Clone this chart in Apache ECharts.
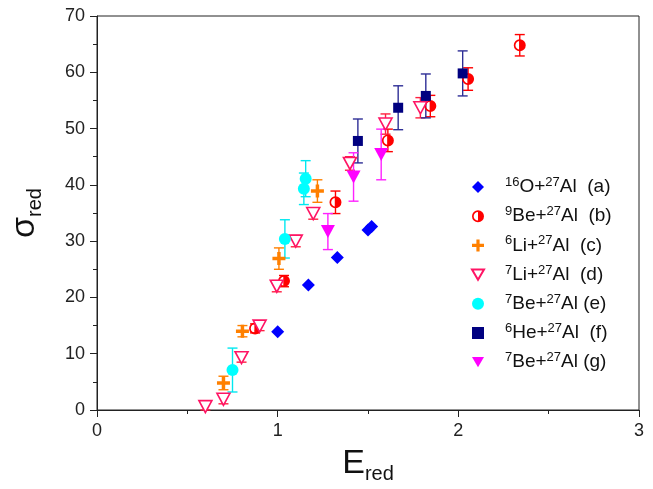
<!DOCTYPE html>
<html>
<head>
<meta charset="utf-8">
<script src="https://cdn.jsdelivr.net/npm/echarts@6/dist/echarts.min.js"></script>
<style>html,body{margin:0;padding:0;background:#fff;}#c{width:653px;height:489px;}</style>
</head>
<body>
<div id="c"></div>
<script>
// ---- data (E_red, sigma_red, error) ----
const O16_x = [1.00, 1.17, 1.33, 1.50, 1.52];
const O16_y = [13.9, 22.2, 27.1, 32.0, 32.6];

const Be9_x = [0.875, 1.035, 1.32, 1.61, 1.845, 2.054, 2.34];
const Be9_y = [14.5, 22.9, 36.9, 47.9, 54.0, 58.8, 64.8];
const Be9_e = [0.8, 1.0, 2.0, 2.0, 1.9, 2.0, 1.9];

const Li6_x = [0.70, 0.805, 1.007, 1.22];
const Li6_y = [4.8, 14.0, 26.9, 38.9];
const Li6_e = [1.2, 1.0, 1.9, 2.0];

const Li7_x = [0.60, 0.70, 0.80, 0.90, 0.995, 1.10, 1.197, 1.40, 1.597, 1.79];
const Li7_y = [0.6, 1.9, 9.3, 14.9, 22.0, 30.0, 34.9, 43.8, 50.8, 53.7];
const Li7_e = [0.6, 0.8, 0.8, 0.8, 1.0, 1.0, 1.0, 1.2, 1.8, 1.8];

const Be7e_x = [0.75, 1.04, 1.145, 1.155];
const Be7e_y = [7.1, 30.4, 39.3, 41.1];
const Be7e_e = [3.9, 3.4, 2.8, 3.2];

const He6_x = [1.444, 1.667, 1.82, 2.024];
const He6_y = [47.8, 53.7, 55.8, 59.8];
const He6_e = [3.9, 3.9, 3.9, 4.0];

const Be7g_x = [1.278, 1.42, 1.573];
const Be7g_y = [31.7, 41.4, 45.4];
const Be7g_e = [3.2, 4.3, 4.5];

const xTicks = [0, 1, 2, 3];
const yTicks = [0, 10, 20, 30, 40, 50, 60, 70];

// legend labels: [superscript A, projectile, superscript B, target+tag]
const legendNames = ['a', 'b', 'c', 'd', 'e', 'f', 'g'];
const legendLabels = [
  ['16', 'O+', '27', 'Al  (a)'],
  ['9', 'Be+', '27', 'Al  (b)'],
  ['6', 'Li+', '27', 'Al  (c)'],
  ['7', 'Li+', '27', 'Al  (d)'],
  ['7', 'Be+', '27', 'Al (e)'],
  ['6', 'He+', '27', 'Al  (f)'],
  ['7', 'Be+', '27', 'Al (g)']
];

function pts(xs, ys) { return xs.map((x, i) => [x, ys[i]]); }
function errs(xs, ys, es) { return xs.map((x, i) => [x, ys[i], es[i]]); }

const FONT = 'Liberation Sans, Arial, Helvetica, sans-serif';
const halfCircle = 'path://M0,-10A10,10 0 1,1 0,10A10,10 0 1,1 0,-10Z M0,-7.2A7.2,7.2 0 0,0 0,7.2Z';
const plus = 'path://M-1.6,-6H1.6V-1.6H6V1.6H1.6V6H-1.6V1.6H-6V-1.6H-1.6Z';
const downTri = 'path://M0,9L-10,-8L10,-8Z';

function errSeries(name, data, color, cap) {
  return {
    name: name, type: 'custom', z: 1, silent: true,
    data: data,
    renderItem: function (params, api) {
      const x = api.value(0), y = api.value(1), e = api.value(2);
      const top = api.coord([x, y + e]);
      const bot = api.coord([x, y - e]);
      const st = { stroke: color, lineWidth: 1.4 };
      return {
        type: 'group',
        children: [
          { type: 'line', shape: { x1: top[0], y1: top[1], x2: bot[0], y2: bot[1] }, style: st },
          { type: 'line', shape: { x1: top[0] - cap, y1: top[1], x2: top[0] + cap, y2: top[1] }, style: st },
          { type: 'line', shape: { x1: bot[0] - cap, y1: bot[1], x2: bot[0] + cap, y2: bot[1] }, style: st }
        ]
      };
    },
    encode: { x: 0, y: 1 }
  };
}

const chart = echarts.init(document.getElementById('c'), null, { renderer: 'canvas' });
const option = {
  animation: false,
  backgroundColor: '#fff',
  grid: { left: 97, right: 14, top: 16, bottom: 74, show: true, borderColor: '#222', borderWidth: 1, backgroundColor: 'transparent' },
  xAxis: {
    type: 'value', min: xTicks[0], max: xTicks[xTicks.length - 1], interval: 1,
    axisLine: { lineStyle: { color: '#222', width: 1 } },
    axisTick: { inside: false, length: 7, lineStyle: { color: '#222' } },
    minorTick: { show: true, splitNumber: 2, length: 4, lineStyle: { color: '#222' } },
    splitLine: { show: false },
    axisLabel: { fontFamily: FONT, fontSize: 18, color: '#222', margin: 12 },
    name: '{a|E}{b|red}', nameLocation: 'middle', nameGap: 34,
    nameTextStyle: {
      rich: {
        a: { fontFamily: FONT, fontSize: 34, color: '#111', lineHeight: 40 },
        b: { fontFamily: FONT, fontSize: 20, color: '#111', lineHeight: 20, verticalAlign: 'bottom' }
      }
    }
  },
  yAxis: {
    type: 'value', min: yTicks[0], max: yTicks[yTicks.length - 1], interval: 10,
    axisLine: { show: true, lineStyle: { color: '#222', width: 1 } },
    axisTick: { show: true, inside: false, length: 7, lineStyle: { color: '#222' } },
    minorTick: { show: true, splitNumber: 2, length: 4, lineStyle: { color: '#222' } },
    splitLine: { show: false },
    axisLabel: { fontFamily: FONT, fontSize: 18, color: '#222', margin: 12 },
    name: '{a|σ}{b|red}', nameLocation: 'middle', nameGap: 52, nameRotate: 90,
    nameTextStyle: {
      rich: {
        a: { fontFamily: FONT, fontSize: 34, color: '#111', lineHeight: 40 },
        b: { fontFamily: FONT, fontSize: 20, color: '#111', lineHeight: 20, verticalAlign: 'bottom' }
      }
    }
  },
  legend: {
    orient: 'vertical', left: 466, top: 171, itemGap: 8.7,
    itemWidth: 12, itemHeight: 12,
    data: legendNames,
    formatter: function (name) {
      const l = legendLabels[legendNames.indexOf(name)];
      return '{s1|' + l[0] + '}{t|' + l[1] + '}{s|' + l[2] + '}{t|' + l[3] + '}';
    },
    textStyle: {
      rich: {
        s1: { fontFamily: FONT, fontSize: 13, color: '#111', lineHeight: 12, verticalAlign: 'top', padding: [0, 0, 0, 16] },
        s: { fontFamily: FONT, fontSize: 13, color: '#111', lineHeight: 12, verticalAlign: 'top' },
        t: { fontFamily: FONT, fontSize: 19, color: '#111', lineHeight: 22 }
      }
    }
  },
  series: [
    errSeries('eb', errs(Be9_x, Be9_y, Be9_e), '#ff0000', 5),
    errSeries('ec', errs(Li6_x, Li6_y, Li6_e), '#ff8000', 5),
    errSeries('ed', errs(Li7_x, Li7_y, Li7_e), '#ff2040', 5),
    errSeries('ee', errs(Be7e_x, Be7e_y, Be7e_e), '#00e8f0', 5),
    errSeries('ef', errs(He6_x, He6_y, He6_e), '#2e2e96', 5),
    errSeries('eg', errs(Be7g_x, Be7g_y, Be7g_e), '#ff22ff', 5),
    { name: 'a', type: 'scatter', z: 3, symbol: 'diamond', symbolSize: 13, itemStyle: { color: '#0000ff', opacity: 1 }, data: pts(O16_x, O16_y) },
    { name: 'b', type: 'scatter', z: 3, symbol: halfCircle, symbolSize: 12, itemStyle: { color: '#ff0000', opacity: 1 }, data: pts(Be9_x, Be9_y) },
    { name: 'c', type: 'scatter', z: 3, symbol: plus, symbolSize: 13, itemStyle: { color: '#ff8000', opacity: 1 }, data: pts(Li6_x, Li6_y) },
    { name: 'd', type: 'scatter', z: 3, symbol: downTri, symbolSize: [13, 12], itemStyle: { color: '#ffffff', borderColor: '#ff1464', borderWidth: 1.6, opacity: 1 }, data: pts(Li7_x, Li7_y) },
    { name: 'e', type: 'scatter', z: 3, symbol: 'circle', symbolSize: 12, itemStyle: { color: '#00ffff', opacity: 1 }, data: pts(Be7e_x, Be7e_y) },
    { name: 'f', type: 'scatter', z: 3, symbol: 'rect', symbolSize: 10, itemStyle: { color: '#000080', opacity: 1 }, data: pts(He6_x, He6_y) },
    { name: 'g', type: 'scatter', z: 3, symbol: downTri, symbolSize: [14, 13], itemStyle: { color: '#ff00ff', opacity: 1 }, data: pts(Be7g_x, Be7g_y) }
  ]
};
chart.setOption(option);
</script>
</body>
</html>
